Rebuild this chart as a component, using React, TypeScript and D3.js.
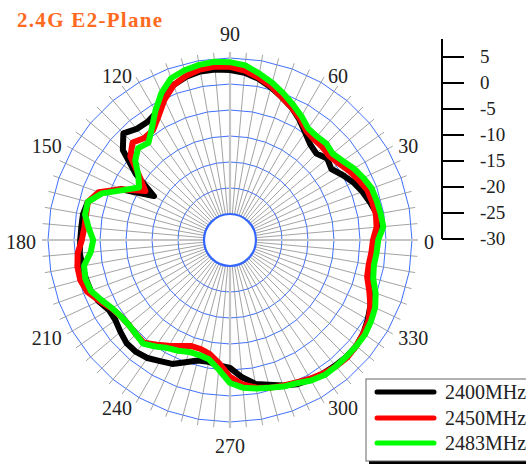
import * as d3 from 'd3';

// angles in degrees, counter-clockwise from the right (0)
const ANGLES = d3.range(0, 360, 5);

// gain in dB, one value per angle
const GAIN_2400 = [
  -2.1, -1.5, -1.3, -2.1, -2.9, -3.8, -5.0, -6.2, -5.6, -6.5, -6.0, -4.8,
  -3.3, -1.9, -0.8, 0.4, 1.5, 2.3, 2.7, 2.9, 2.9, 2.5, 1.7, 0.0,
  -1.7, -2.3, -2.1, -1.0, -3.1, -7.9, -13.1, -6.9, -3.5, -1.7, -1.3, -1.3,
  -1.2, -1.0, -1.2, -1.3, -1.5, -2.1, -3.1, -3.1, -2.5, -1.9, -1.9, -2.3,
  -3.1, -3.7, -5.0, -6.0, -6.2, -5.8, -5.4, -3.5, -1.9, -1.2, -0.2, 0.6,
  1.0, 1.3, 1.5, 1.7, 1.7, 1.3, 0.6, -0.2, -1.2, -1.9, -2.1, -2.1,
];
const GAIN_2450 = [
  -2.5, -1.7, -1.5, -1.7, -1.9, -2.7, -3.5, -4.4, -5.0, -4.8, -4.8, -4.4,
  -3.1, -1.9, -0.8, 0.6, 1.7, 2.7, 3.3, 3.5, 3.3, 2.7, 1.7, -0.2,
  -2.5, -4.2, -4.4, -3.5, -5.0, -8.8, -11.2, -6.9, -3.1, -1.7, -1.9, -1.9,
  -1.5, -0.6, -0.2, -0.2, -0.8, -2.3, -3.7, -4.4, -4.6, -4.4, -4.2, -5.4,
  -6.5, -7.5, -8.3, -8.3, -7.7, -6.2, -3.7, -2.1, -1.2, -0.6, -0.2, 0.2,
  0.8, 1.3, 1.7, 1.9, 1.7, 1.3, 0.8, -0.2, -1.5, -2.7, -2.9, -2.7,
];
const GAIN_2483 = [
  -1.5, -0.4, -0.6, -0.8, -1.0, -1.7, -2.5, -3.5, -4.2, -3.8, -4.0, -3.8,
  -2.5, -1.3, 0.0, 1.3, 2.5, 3.7, 4.2, 4.4, 4.2, 3.8, 3.1, 1.2,
  -1.3, -3.8, -5.6, -5.0, -6.2, -8.5, -9.8, -7.3, -3.8, -1.7, -1.7, -2.7,
  -3.7, -3.1, -1.5, -1.2, -1.5, -2.7, -3.8, -4.4, -4.6, -4.4, -4.0, -5.0,
  -6.0, -6.5, -7.1, -7.1, -6.7, -5.0, -2.5, -1.5, -1.0, -0.6, 0.0, 0.4,
  1.2, 1.7, 1.7, 1.7, 1.7, 1.7, 1.3, 0.8, -0.2, -1.5, -1.9, -1.7,
];

const SERIES = [
  { label: '2400MHz', color: '#000000', values: GAIN_2400 },
  { label: '2450MHz', color: '#ff0000', values: GAIN_2450 },
  { label: '2483MHz', color: '#00ff00', values: GAIN_2483 },
];

const RING_DB = [-25, -20, -15, -10, -5, 0, 5];
const ANGLE_LABELS = [0, 30, 60, 90, 120, 150, 180, 210, 240, 270, 300, 330];
const SCALE_TICKS = [5, 0, -5, -10, -15, -20, -25, -30];

const W = 526;
const H = 466;
const cx = 230;
const cy = 240;
const R = 182;
const serif = '"Liberation Serif", "Times New Roman", serif';

const rScale = d3.scaleLinear().domain([-30, 5]).range([0, R]);
const barScale = d3.scaleLinear().domain([-30, 5]).range([239, 57]);
const toRad = (deg: number) => (deg * Math.PI) / 180;

function ringPath(db: number) {
  const r = rScale(db);
  return d3
    .lineRadial<number>()
    .angle((d) => Math.PI / 2 - toRad(d))
    .radius(r)
    .curve(d3.curveLinearClosed)(d3.range(0, 360, 10));
}

const traceLine = d3
  .lineRadial<number>()
  .angle((_, i) => Math.PI / 2 - toRad(ANGLES[i]))
  .radius((d) => rScale(d))
  .curve(d3.curveLinearClosed);

// label sits just outside the grid, anchored on the side facing the chart
function labelProps(a: number) {
  const c = Math.cos(toRad(a));
  const s = Math.sin(toRad(a));
  const ax = 192 * c;
  const ay = -192 * s;
  if (Math.abs(c) < 0.01) {
    return { x: ax, y: ay - s * 14, anchor: 'middle' };
  }
  return { x: ax + (c > 0 ? 2 : -2), y: ay + 2, anchor: c > 0 ? 'start' : 'end' };
}

export default function App() {
  const r0 = rScale(-25);
  const legendRows = [392, 418, 443];
  return (
    <svg
      width={W}
      height={H}
      viewBox={`0 0 ${W} ${H}`}
      style={{ position: 'absolute', left: 0, top: 0, background: '#fff' }}
    >
      <text x={17} y={27} fill="#ff6a1f" fontFamily={serif} fontWeight="bold" fontSize={21} letterSpacing={1.3}>
        2.4G E2-Plane
      </text>

      <g transform={`translate(${cx},${cy})`}>
        {RING_DB.slice(1).map((db) => (
          <path key={db} d={ringPath(db) ?? ''} fill="none" stroke="#3f6fff" strokeWidth={1} />
        ))}
        {ANGLES.map((a) => {
          const main = a % 90 === 0;
          const r1 = R + 6;
          return (
            <line
              key={a}
              x1={r0 * Math.cos(toRad(a))}
              y1={-r0 * Math.sin(toRad(a))}
              x2={r1 * Math.cos(toRad(a))}
              y2={-r1 * Math.sin(toRad(a))}
              stroke={main ? '#c4c4c4' : '#8c8c8c'}
              strokeWidth={main ? 2.2 : 0.8}
            />
          );
        })}
        <circle r={r0} fill="#fff" stroke="#3366ff" strokeWidth={2.2} />

        {SERIES.map((s) => (
          <path
            key={s.label}
            d={traceLine(s.values) ?? ''}
            fill="none"
            stroke={s.color}
            strokeWidth={6}
            strokeLinejoin="round"
          />
        ))}

        {ANGLE_LABELS.map((a) => {
          const p = labelProps(a);
          return (
            <text
              key={a}
              x={p.x}
              y={p.y}
              dy="0.35em"
              textAnchor={p.anchor}
              fontFamily={serif}
              fontSize={20}
              fill="#222"
            >
              {a}
            </text>
          );
        })}
      </g>

      <g>
        <line x1={442} x2={442} y1={39} y2={barScale(-30)} stroke="#000" strokeWidth={2} />
        {SCALE_TICKS.map((t) => (
          <g key={t}>
            <line x1={442} x2={464} y1={barScale(t)} y2={barScale(t)} stroke="#000" strokeWidth={2} />
            <text x={480} y={barScale(t)} dy="0.3em" fontFamily={serif} fontSize={19} fill="#222">
              {t}
            </text>
          </g>
        ))}
      </g>

      <g>
        <rect x={369} y={382} width={170} height={82} fill="#000" />
        <rect x={366} y={379} width={170} height={82} fill="#fff" stroke="#666" strokeWidth={1} />
        {SERIES.map((s, i) => (
          <g key={s.label}>
            <line
              x1={377}
              x2={434}
              y1={legendRows[i]}
              y2={legendRows[i]}
              stroke={s.color}
              strokeWidth={5}
              strokeLinecap="round"
            />
            <text x={445} y={legendRows[i]} dy="0.35em" fontFamily={serif} fontSize={20} fill="#222">
              {s.label}
            </text>
          </g>
        ))}
      </g>
    </svg>
  );
}
